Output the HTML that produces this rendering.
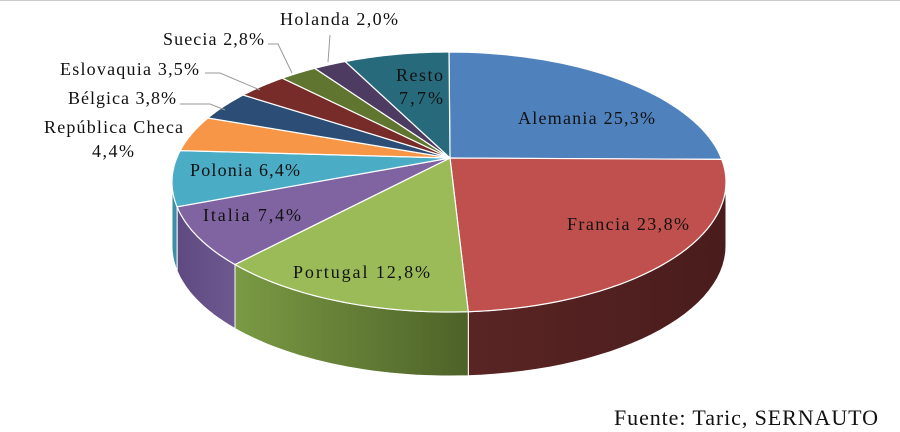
<!DOCTYPE html>
<html><head><meta charset="utf-8"><style>
body{margin:0;background:#fff;}
svg{display:block;}
text{font-family:"Liberation Serif","DejaVu Serif",serif;font-size:18px;fill:#111;}
</style></head><body>
<svg id="s" width="900" height="432" viewBox="0 0 900 432">
<defs>
<linearGradient id="gP" x1="0" x2="1"><stop offset="0" stop-color="#7a9a44"/><stop offset="1" stop-color="#4e6228"/></linearGradient>
<linearGradient id="gF" x1="0" x2="1"><stop offset="0" stop-color="#5a2424"/><stop offset="1" stop-color="#4a1c1c"/></linearGradient>
<linearGradient id="gI" x1="0" x2="1"><stop offset="0" stop-color="#5e4a80"/><stop offset="1" stop-color="#6e5890"/></linearGradient>
</defs>
<rect x="0" y="0" width="900" height="432" fill="#fff"/>
<line x1="0" y1="0.5" x2="900" y2="0.5" stroke="#ccc"/>
<g id="g"></g>
<g stroke="#999" fill="none" stroke-width="1">
<polyline points="330,35 328,62"/>
<polyline points="268,44 278,44 292,73"/>
<polyline points="205,73 220,73 260,90"/>
<polyline points="180,104 210,104 225,110"/>
</g>
<text x="280" y="25" textLength="118" lengthAdjust="spacing">Holanda 2,0%</text>
<text x="163" y="45" textLength="101" lengthAdjust="spacing">Suecia 2,8%</text>
<text x="60" y="75" textLength="139" lengthAdjust="spacing">Eslovaquia 3,5%</text>
<text x="68" y="104" textLength="108" lengthAdjust="spacing">Bélgica 3,8%</text>
<text x="44" y="133" textLength="139" lengthAdjust="spacing">República Checa</text>
<text x="92" y="157" textLength="42" lengthAdjust="spacing">4,4%</text>
<text x="396" y="81" textLength="47" lengthAdjust="spacing">Resto</text>
<text x="399" y="104" textLength="44" lengthAdjust="spacing">7,7%</text>
<text x="518" y="124" textLength="137" lengthAdjust="spacing">Alemania 25,3%</text>
<text x="567" y="230" textLength="122" lengthAdjust="spacing">Francia 23,8%</text>
<text x="190" y="176" textLength="110" lengthAdjust="spacing">Polonia 6,4%</text>
<text x="203" y="221" textLength="98" lengthAdjust="spacing">Italia 7,4%</text>
<text x="293" y="278" textLength="137" lengthAdjust="spacing">Portugal 12,8%</text>
<text x="614" y="425" style="font-size:22px" textLength="264" lengthAdjust="spacing">Fuente: Taric, SERNAUTO</text>
</svg>
<script>
var cx=449,cy=182,rx=277,ry=130,D=64,hx=450,hy=158;
function P(a,dy){a=a*Math.PI/180;return [cx+rx*Math.sin(a),cy-ry*Math.cos(a)+(dy||0)];}
var sl=[[0,80,"#4F81BD"],[80,176,"#C0504D","url(#gF)"],[176,230.6,"#9BBB59","url(#gP)"],[230.6,259,"#8064A2","url(#gI)"],[259,284,"#4BACC6","#3a8ea6"],[284,299.5,"#F79646"],[299.5,312,"#2C4D75"],[312,323,"#772C2A"],[323,331,"#5F7530"],[331,338,"#4D3B62"],[338,360,"#276A7C"]];
var h="";
sl.forEach(function(s){var a=Math.max(s[0],90),b=Math.min(s[1],270);if(b>a&&s[3]){var t=[],u=[];for(var k=0;k<=30;k++){var x=a+(b-a)*k/30;t.push(P(x));u.unshift(P(x,D));}h+='<path d="M'+t.concat(u).map(function(p){return p[0].toFixed(1)+','+p[1].toFixed(1)}).join('L')+'Z" fill="'+s[3]+'" stroke="#fff" stroke-width="1"/>';}});
sl.forEach(function(s){var t=[[hx,hy]];for(var k=0;k<=40;k++)t.push(P(s[0]+(s[1]-s[0])*k/40));h+='<path d="M'+t.map(function(p){return p[0].toFixed(1)+','+p[1].toFixed(1)}).join('L')+'Z" fill="'+s[2]+'" stroke="#fff" stroke-width="1.2"/>';});
document.getElementById("g").innerHTML=h;
</script>
</body></html>
